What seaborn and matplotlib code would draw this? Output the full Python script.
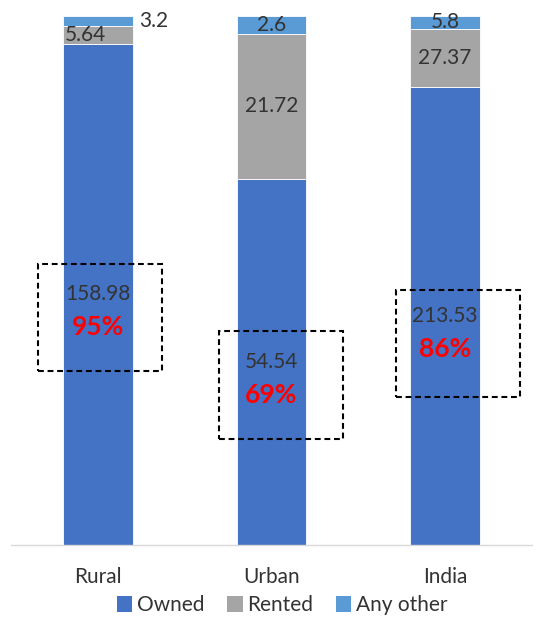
import numpy as np
import pandas as pd
import seaborn as sns
import matplotlib.pyplot as plt
from matplotlib.patches import Rectangle, Patch

# Households by tenure status (values shown on the bars)
regions = ["Rural", "Urban", "India"]
owned = [158.98, 54.54, 213.53]
rented = [5.64, 21.72, 27.37]
any_other = [3.2, 2.6, 5.8]
owned_share_labels = ["95%", "69%", "86%"]

series_names = ["Owned", "Rented", "Any other"]
colors = ["#4472C4", "#A5A5A5", "#5B9BD5"]
text_color = "#333333"

sns.set_theme(style="white")
plt.rcParams["font.family"] = ["Lato", "DejaVu Sans"]

df = pd.DataFrame({"Region": regions, "Owned": owned,
                   "Rented": rented, "Any other": any_other})
totals = df[series_names].sum(axis=1)
shares = df[series_names].div(totals, axis=0)

fig = plt.figure(figsize=(5.37, 6.22), dpi=100)
ax = fig.add_axes([0.021, 0.124, 0.969, 0.850])

# 100% stacked bars
bottom = np.zeros(len(regions))
mids = {}
for name, color in zip(series_names, colors):
    vals = shares[name].values
    sns.barplot(x=df["Region"], y=vals, bottom=bottom, color=color,
                saturation=1, width=0.4, errorbar=None, ax=ax,
                edgecolor="white", linewidth=0.6)
    mids[name] = bottom + vals / 2
    bottom = bottom + vals

ax.set_xlim(-0.5, 2.5)
ax.set_ylim(0, 1)
ax.set_yticks([])
ax.set_xlabel("")
ax.set_ylabel("")
for side in ("left", "top", "right"):
    ax.spines[side].set_visible(False)
ax.spines["bottom"].set_color("#D9D9D9")
ax.spines["bottom"].set_linewidth(1.0)
ax.tick_params(axis="x", length=0, pad=16, labelsize=15, labelcolor=text_color)

# Segment value labels
label_kw = dict(fontsize=15, color=text_color, ha="center", va="center")
rented_dx = [-0.07, 0.0, 0.0]
other_dx = [0.32, 0.0, 0.0]
box_dx = [-0.346, -0.305, -0.282]
box_dy = [-0.145, -0.145, -0.153]
for i in range(len(regions)):
    ax.text(i, mids["Owned"][i], f"{owned[i]:g}", **label_kw)
    ax.text(i, mids["Owned"][i] - 0.062, owned_share_labels[i],
            fontsize=19, fontweight="bold", color="#FF0000",
            ha="center", va="center")
    ax.text(i + rented_dx[i], mids["Rented"][i], f"{rented[i]:g}", **label_kw)
    ax.text(i + other_dx[i], mids["Any other"][i], f"{any_other[i]:g}", **label_kw)
    ax.add_patch(Rectangle((i + box_dx[i], mids["Owned"][i] + box_dy[i]), 0.715, 0.203,
                           fill=False, edgecolor="black", linewidth=1.5,
                           linestyle=(0, (2.8, 1.8)), zorder=5))

handles = [Patch(facecolor=c, edgecolor="none") for c in colors]
leg = fig.legend(handles, series_names, loc="center", bbox_to_anchor=(0.525, 0.027),
                 ncol=3, frameon=False, fontsize=15, handlelength=0.75,
                 handleheight=0.75, handletextpad=0.2, columnspacing=1.1)
for t in leg.get_texts():
    t.set_color(text_color)

fig.savefig("out.png", dpi=100)
